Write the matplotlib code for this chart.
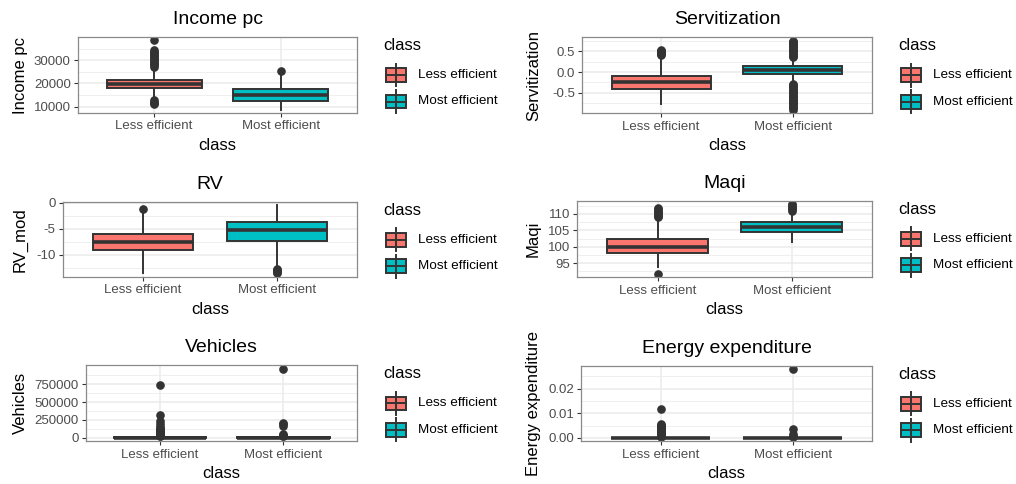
import matplotlib
matplotlib.use('Agg')
import matplotlib.pyplot as plt
from matplotlib.patches import Rectangle
from matplotlib.lines import Line2D
from matplotlib.ticker import FixedLocator

plt.rcParams['font.family'] = ['Liberation Sans', 'DejaVu Sans']
plt.rcParams['axes.unicode_minus'] = False

classes = ['Less efficient', 'Most efficient']
fill_colors = ['#F8766D', '#00BFC4']

# ---- Income pc ----
income_q1 = [17860, 12540]
income_med = [19570, 15000]
income_q3 = [21700, 17560]
income_lo = [13300, 8780]
income_hi = [26600, 24000]
income_out_less = [38500, 34300, 33700, 33200, 32600, 32000, 31400, 30800, 30200,
                   29600, 29000, 28400, 27800, 27200, 12800, 12200, 11600, 11000]
income_out_most = [25300]
income_ticks = [10000, 20000, 30000]
income_minor = [15000, 25000, 35000]

# ---- Servitization ----
serv_q1 = [-0.423, -0.055]
serv_med = [-0.24, 0.057]
serv_q3 = [-0.087, 0.144]
serv_lo = [-0.776, -0.20]
serv_hi = [0.36, 0.28]
serv_out_less = [0.42, 0.44, 0.46, 0.48, 0.50, 0.52, 0.54]
serv_out_most = [0.36, 0.39, 0.42, 0.45, 0.48, 0.51, 0.54, 0.57, 0.60, 0.63, 0.66,
                 0.69, 0.72, 0.74, 0.76,
                 -0.28, -0.31, -0.34, -0.37, -0.40, -0.43, -0.46, -0.49, -0.52,
                 -0.55, -0.58, -0.61, -0.64, -0.67, -0.70, -0.73, -0.76, -0.79,
                 -0.82, -0.85, -0.88, -0.92]
serv_ticks = [-0.5, 0.0, 0.5]
serv_minor = [-0.75, -0.25, 0.25, 0.75]

# ---- RV ----
rv_q1 = [-9.04, -7.31]
rv_med = [-7.63, -5.19]
rv_q3 = [-5.95, -3.65]
rv_lo = [-13.5, -12.3]
rv_hi = [-1.9, -0.46]
rv_out_less = [-1.2]
rv_out_most = [-12.8, -13.0, -13.2, -13.4, -13.57]
rv_ticks = [-10, -5, 0]
rv_minor = [-12.5, -7.5, -2.5]

# ---- Maqi ----
maqi_q1 = [97.96, 104.6]
maqi_med = [100.0, 106.1]
maqi_q3 = [102.45, 107.4]
maqi_lo = [93.8, 101.3]
maqi_hi = [108.6, 110.6]
maqi_out_less = [109.0, 109.4, 109.8, 110.2, 110.6, 111.0, 111.4, 111.7, 91.7]
maqi_out_most = [111.0, 111.4, 111.8, 112.2, 112.6, 113.0]
maqi_ticks = [95, 100, 105, 110]
maqi_minor = [92.5, 97.5, 102.5, 107.5, 112.5]

# ---- Vehicles ----
veh_q1 = [1000, 1000]
veh_med = [3000, 3000]
veh_q3 = [8000, 7000]
veh_lo = [0, 0]
veh_hi = [18000, 15000]
veh_out_less = [745000, 325000, 230000, 200000, 150000, 135000, 120000, 105000,
                90000, 80000, 70000, 60000, 50000, 40000, 30000, 25000]
veh_out_most = [965000, 210000, 190000, 170000, 60000, 45000, 30000, 20000]
veh_ticks = [0, 250000, 500000, 750000]
veh_minor = [125000, 375000, 625000, 875000]

# ---- Energy expenditure ----
en_q1 = [0.0, 0.0]
en_med = [0.00005, 0.00005]
en_q3 = [0.0001, 0.0001]
en_lo = [0.0, 0.0]
en_hi = [0.0003, 0.0003]
en_out_less = [0.0118, 0.0058, 0.0054, 0.0050, 0.0046, 0.0042, 0.0038, 0.0034,
               0.0030, 0.0026, 0.0022, 0.0018, 0.0014, 0.0010, 0.0007, 0.0005]
en_out_most = [0.0279, 0.0037, 0.0014, 0.0008, 0.0005]
en_ticks = [0.00, 0.01, 0.02]
en_minor = [0.005, 0.015, 0.025]

panels = [
    dict(title='Income pc', ylab='Income pc', q1=income_q1, med=income_med, q3=income_q3,
         lo=income_lo, hi=income_hi, out=[income_out_less, income_out_most],
         ticks=income_ticks, minor=income_minor, fmt='{:.0f}',
         rect=(78, 37, 357, 113), ylx=28),
    dict(title='Servitization', ylab='Servitization', q1=serv_q1, med=serv_med, q3=serv_q3,
         lo=serv_lo, hi=serv_hi, out=[serv_out_less, serv_out_most],
         ticks=serv_ticks, minor=serv_minor, fmt='{:.1f}',
         rect=(582, 37.3, 872, 113.3), ylx=541),
    dict(title='RV', ylab='RV_mod', q1=rv_q1, med=rv_med, q3=rv_q3,
         lo=rv_lo, hi=rv_hi, out=[rv_out_less, rv_out_most],
         ticks=rv_ticks, minor=rv_minor, fmt='{:.0f}',
         rect=(62.7, 201.7, 357.3, 276.7), ylx=28),
    dict(title='Maqi', ylab='Maqi', q1=maqi_q1, med=maqi_med, q3=maqi_q3,
         lo=maqi_lo, hi=maqi_hi, out=[maqi_out_less, maqi_out_most],
         ticks=maqi_ticks, minor=maqi_minor, fmt='{:.0f}',
         rect=(577.3, 200.7, 872, 277.3), ylx=541),
    dict(title='Vehicles', ylab='Vehicles', q1=veh_q1, med=veh_med, q3=veh_q3,
         lo=veh_lo, hi=veh_hi, out=[veh_out_less, veh_out_most],
         ticks=veh_ticks, minor=veh_minor, fmt='{:.0f}',
         rect=(86, 365.3, 357.3, 441.3), ylx=28),
    dict(title='Energy expenditure', ylab='Energy expenditure', q1=en_q1, med=en_med, q3=en_q3,
         lo=en_lo, hi=en_hi, out=[en_out_less, en_out_most],
         ticks=en_ticks, minor=en_minor, fmt='{:.2f}',
         rect=(581.3, 365.7, 872, 441.3), ylx=541),
]

W, H = 1016, 484
fig = plt.figure(figsize=(W / 100, H / 100), dpi=100)
fig.patch.set_facecolor('white')

EDGE = '#333333'
LINE_W = 1.4
MED_W = 2.6


def fx(px):
    return px / W


def fy(py):
    return 1 - py / H


def draw_legend(R, T):
    fig.text(fx(R + 26), fy(T + 8.5), 'class', fontsize=12, ha='left', va='center',
             color='black')
    for i, (lab, col) in enumerate(zip(classes, fill_colors)):
        cy = T + 38 + i * 26.5
        x0, x1 = R + 28.5, R + 49
        xc = (x0 + x1) / 2
        fig.add_artist(Line2D([fx(xc), fx(xc)], [fy(cy - 11.5), fy(cy + 11.5)],
                              transform=fig.transFigure, color=EDGE, lw=LINE_W))
        fig.add_artist(Rectangle((fx(x0), fy(cy + 6.8)), fx(x1) - fx(x0), fy(cy - 6.8) - fy(cy + 6.8),
                                 transform=fig.transFigure, facecolor=col, edgecolor=EDGE,
                                 lw=LINE_W))
        fig.add_artist(Line2D([fx(x0), fx(x1)], [fy(cy), fy(cy)],
                              transform=fig.transFigure, color=EDGE, lw=LINE_W))
        fig.text(fx(R + 61), fy(cy), lab, fontsize=9.7, ha='left', va='center', color='black')


for p in panels:
    l, t, r, b = p['rect']
    ax = fig.add_axes([fx(l), fy(b), (r - l) / W, (b - t) / H])
    stats = []
    for i in range(2):
        stats.append(dict(med=p['med'][i], q1=p['q1'][i], q3=p['q3'][i],
                          whislo=p['lo'][i], whishi=p['hi'][i], fliers=p['out'][i]))
    bp = ax.bxp(stats, positions=[1, 2], widths=0.75, patch_artist=True, showcaps=False,
                boxprops=dict(edgecolor=EDGE, linewidth=LINE_W),
                medianprops=dict(color=EDGE, linewidth=MED_W, solid_capstyle='butt'),
                whiskerprops=dict(color=EDGE, linewidth=LINE_W),
                flierprops=dict(marker='o', markerfacecolor=EDGE, markeredgecolor=EDGE,
                                markersize=5.2, linestyle='none'))
    for patch, c in zip(bp['boxes'], fill_colors):
        patch.set_facecolor(c)
        patch.set_zorder(3)
    for m in bp['medians']:
        m.set_zorder(4)

    allv = p['lo'] + p['hi'] + p['out'][0] + p['out'][1]
    vmin, vmax = min(allv), max(allv)
    pad = 0.05 * (vmax - vmin)
    ax.set_ylim(vmin - pad, vmax + pad)
    ax.set_xlim(0.4, 2.6)

    ax.set_yticks(p['ticks'])
    ax.set_yticklabels([p['fmt'].format(v) for v in p['ticks']])
    ax.yaxis.set_minor_locator(FixedLocator(p['minor']))
    ax.set_xticks([1, 2])
    ax.set_xticklabels(classes)

    ax.set_axisbelow(True)
    ax.grid(which='major', color='#EBEBEB', linewidth=1.1)
    ax.grid(which='minor', axis='y', color='#EBEBEB', linewidth=0.55)
    ax.tick_params(which='major', labelsize=9.5, labelcolor='#4D4D4D', color=EDGE,
                   length=2.9, width=0.8, pad=2.3)
    ax.tick_params(which='minor', length=0)
    for s in ax.spines.values():
        s.set_color('#8A8A8A')
        s.set_linewidth(0.9)

    ax.set_title(p['title'], fontsize=14, pad=9.3, color='black')
    ax.set_xlabel('class', fontsize=12, color='black', va='top')
    ax.xaxis.set_label_coords(0.5, -25.0 / (b - t))
    ax.set_ylabel(p['ylab'], fontsize=12, color='black')
    ax.yaxis.set_label_coords((p['ylx'] - l) / (r - l), 0.5)

    draw_legend(r, t)

fig.savefig('out.png', dpi=100, facecolor='white')
